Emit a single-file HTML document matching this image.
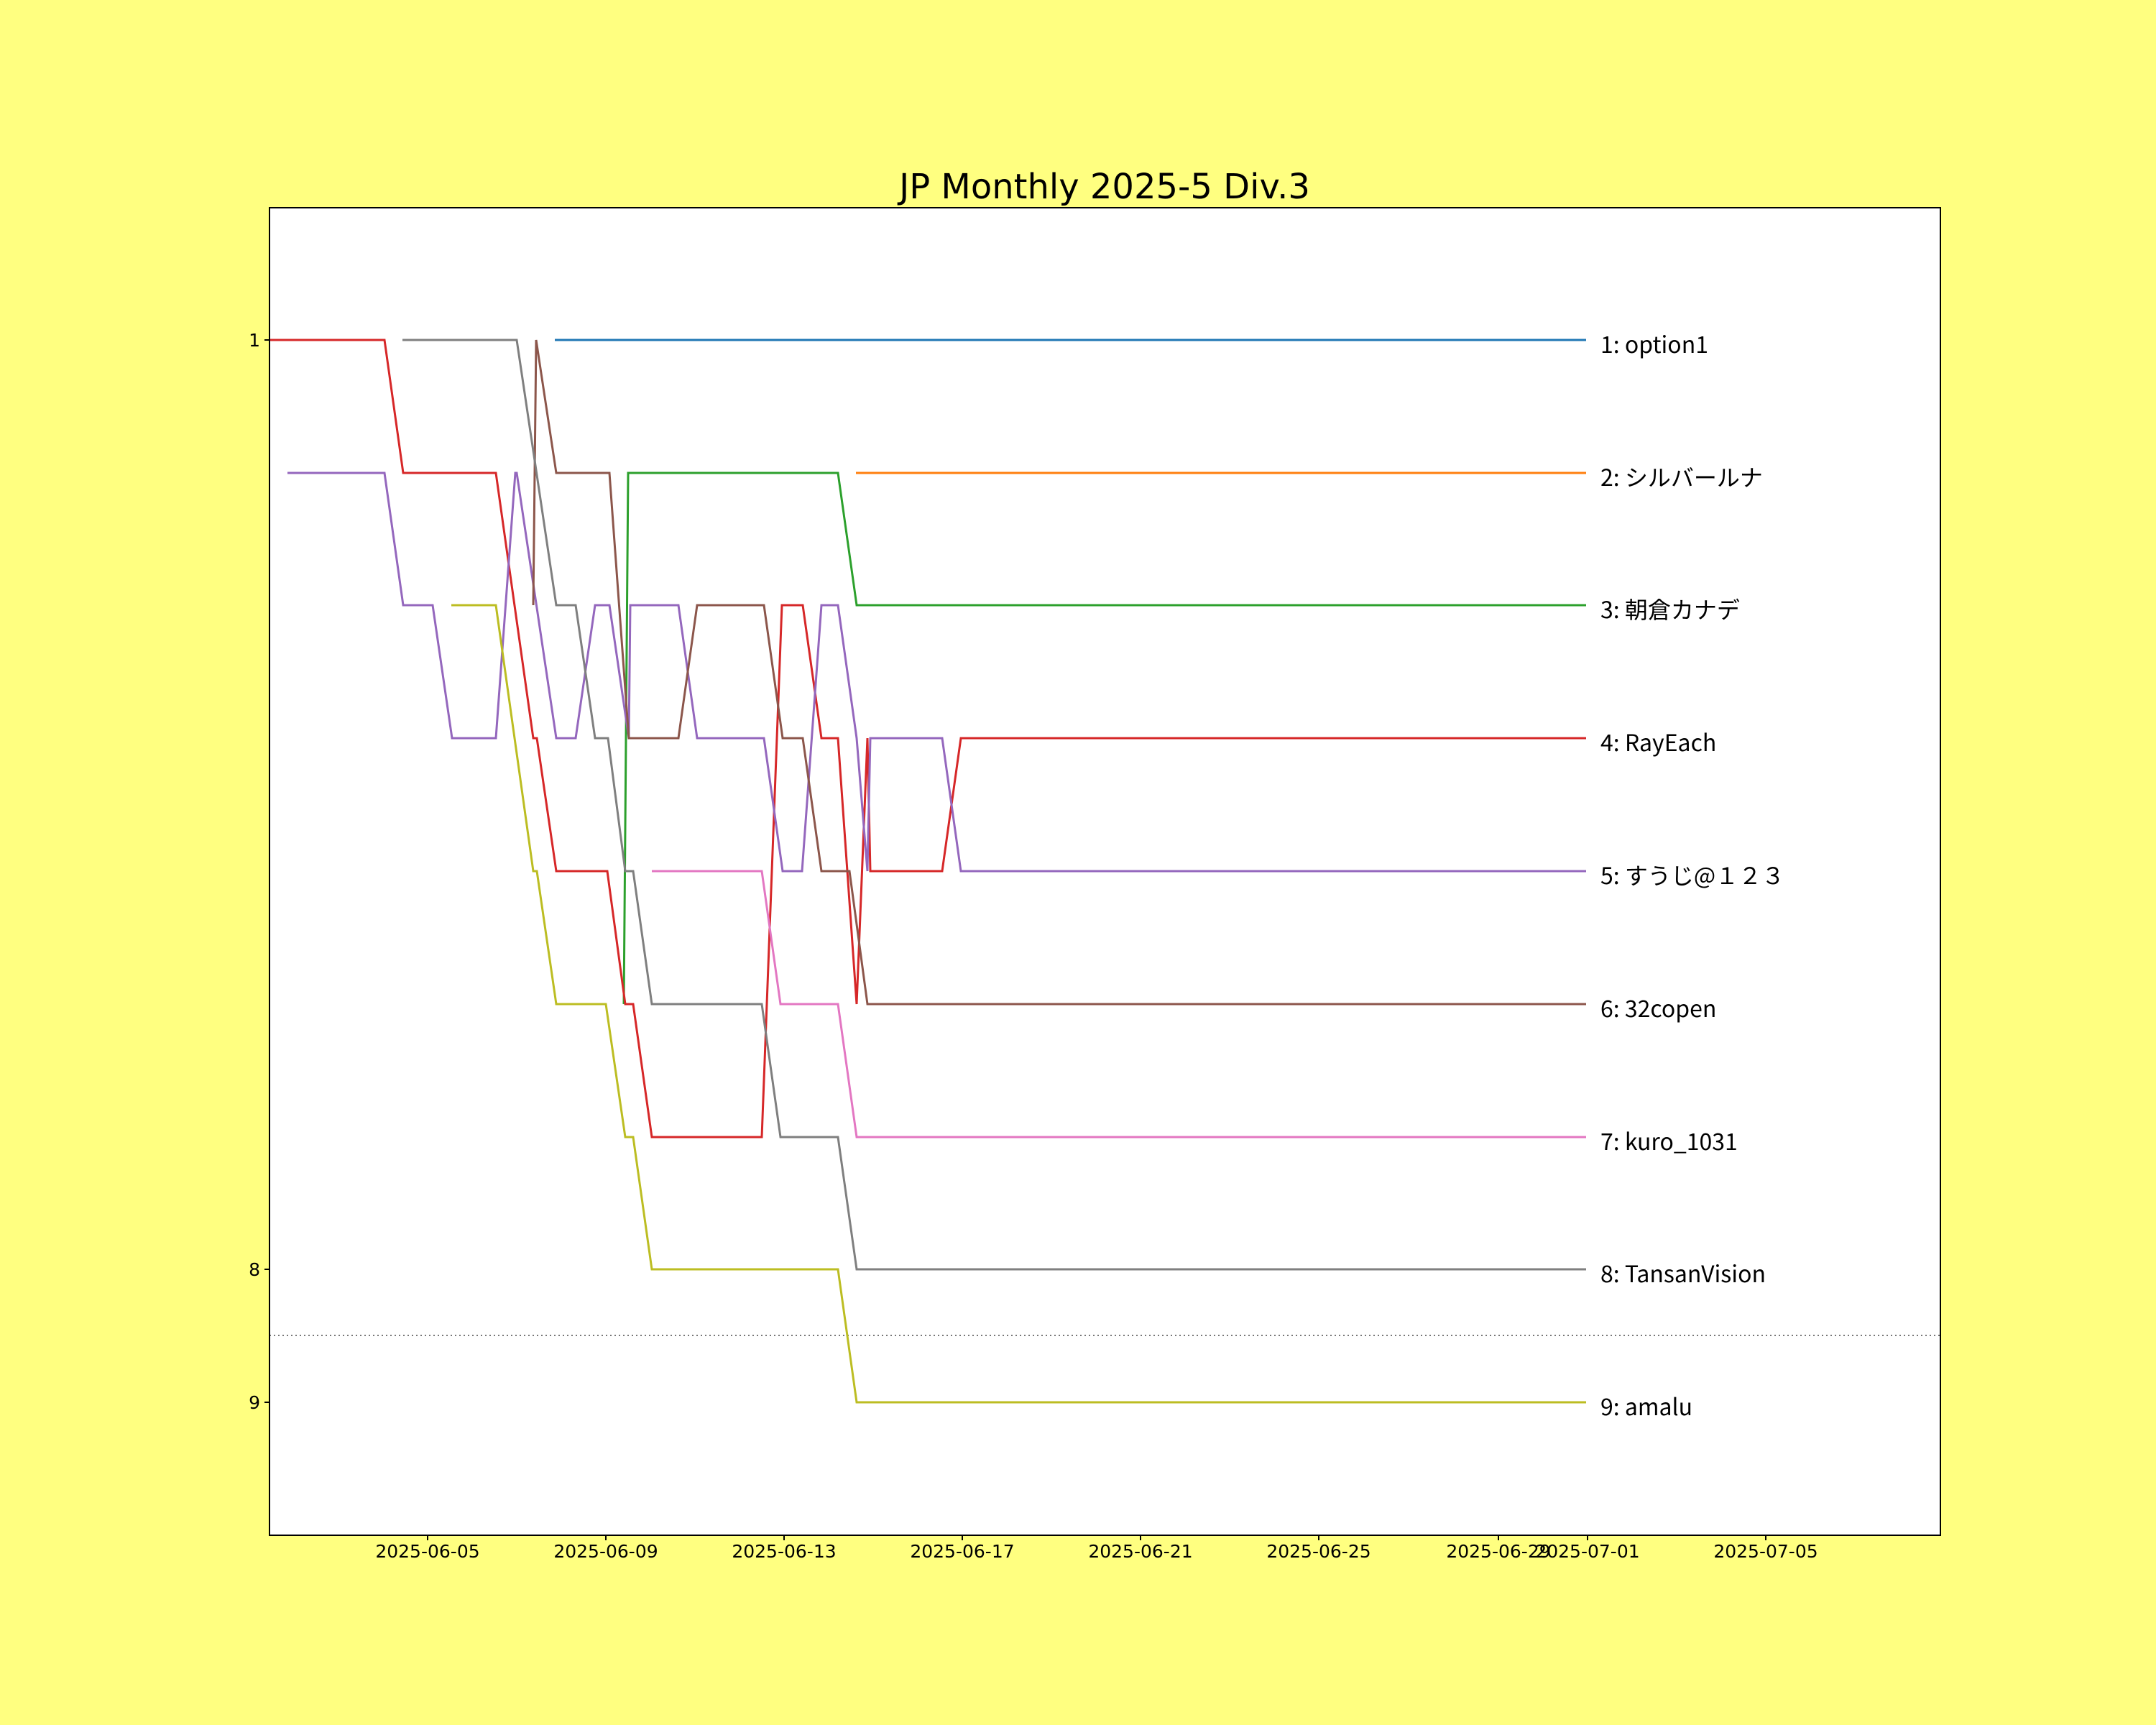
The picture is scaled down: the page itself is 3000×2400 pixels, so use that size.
<!DOCTYPE html>
<html><head><meta charset="utf-8"><style>
html,body{margin:0;padding:0;background:#ffff80;}
svg{display:block;}
text{font-family:"Noto Sans CJK JP","Liberation Sans",sans-serif;fill:#000;}
text.dv,.dv text{font-family:"DejaVu Sans","Noto Sans CJK JP",sans-serif;}
</style></head><body>
<svg width="3000" height="2400" viewBox="0 0 3000 2400" xmlns="http://www.w3.org/2000/svg">
<rect x="0" y="0" width="3000" height="2400" fill="#ffff80"/>
<rect x="375" y="289" width="2325" height="1847" fill="#fff"/>
<text class="dv" x="1537" y="276" font-size="48" text-anchor="middle">JP Monthly 2025-5 Div.3</text>
<line x1="375" y1="1858" x2="2700" y2="1858" stroke="#777" stroke-width="2" stroke-dasharray="2,4"/>
<g fill="none" stroke-width="3" stroke-linejoin="miter">
<polyline stroke="#1f77b4" points="772,473 2207,473"/>
<polyline stroke="#ff7f0e" points="1191,658 2207,658"/>
<polyline stroke="#2ca02c" points="868,1397 874,658 1166,658 1192,842 2207,842"/>
<polyline stroke="#d62728" points="375,473 535,473 561,658 690,658 742,1027 747,1027 774,1212 845,1212 870,1397 881,1397 907,1582 1060,1582 1088,842 1117,842 1143,1027 1166,1027 1192,1397 1207,1027 1211,1212 1311,1212 1337,1027 2207,1027"/>
<polyline stroke="#9467bd" points="400,658 535,658 561,842 602,842 629,1027 690,1027 717,658 719,658 774,1027 801,1027 828,842 848,842 875,1027 877,842 944,842 970,1027 1063,1027 1089,1212 1116,1212 1143,842 1166,842 1192,1027 1207,1212 1211,1027 1311,1027 1337,1212 2207,1212"/>
<polyline stroke="#8c564b" points="742,842 746,473 774,658 848,658 875,1027 944,1027 970,842 1063,842 1089,1027 1117,1027 1143,1212 1182,1212 1207,1397 2207,1397"/>
<polyline stroke="#e377c2" points="907,1212 1060,1212 1086,1397 1166,1397 1192,1582 2207,1582"/>
<polyline stroke="#7f7f7f" points="560,473 719,473 774,842 801,842 828,1027 846,1027 870,1212 881,1212 907,1397 1060,1397 1086,1582 1166,1582 1192,1766 2207,1766"/>
<polyline stroke="#bcbd22" points="628,842 690,842 742,1212 747,1212 774,1397 843,1397 870,1582 881,1582 907,1766 1166,1766 1192,1951 2207,1951"/>
</g>
<rect x="375" y="289" width="2325" height="1847" fill="none" stroke="#000" stroke-width="2"/>
<g stroke="#000" stroke-width="2">
<line x1="368" y1="473" x2="375" y2="473"/>
<line x1="368" y1="1766" x2="375" y2="1766"/>
<line x1="368" y1="1951" x2="375" y2="1951"/>
<line x1="595" y1="2136" x2="595" y2="2143"/>
<line x1="843" y1="2136" x2="843" y2="2143"/>
<line x1="1091" y1="2136" x2="1091" y2="2143"/>
<line x1="1339" y1="2136" x2="1339" y2="2143"/>
<line x1="1587" y1="2136" x2="1587" y2="2143"/>
<line x1="1835" y1="2136" x2="1835" y2="2143"/>
<line x1="2085" y1="2136" x2="2085" y2="2143"/>
<line x1="2209" y1="2136" x2="2209" y2="2143"/>
<line x1="2457" y1="2136" x2="2457" y2="2143"/>
</g>
<g class="dv" font-size="25" text-anchor="end">
<text x="362" y="482">1</text>
<text x="362" y="1775">8</text>
<text x="362" y="1960">9</text>
</g>
<g class="dv" font-size="25" text-anchor="middle">
<text x="595" y="2167">2025-06-05</text>
<text x="843" y="2167">2025-06-09</text>
<text x="1091" y="2167">2025-06-13</text>
<text x="1339" y="2167">2025-06-17</text>
<text x="1587" y="2167">2025-06-21</text>
<text x="1835" y="2167">2025-06-25</text>
<text x="2085" y="2167">2025-06-29</text>
<text x="2209" y="2167">2025-07-01</text>
<text x="2457" y="2167">2025-07-05</text>
</g>
<g font-size="32">
<text x="2227" y="491">1: option1</text>
<text x="2227" y="676">2: シルバールナ</text>
<text x="2227" y="860">3: 朝倉カナデ</text>
<text x="2227" y="1045">4: RayEach</text>
<text x="2227" y="1230">5: すうじ@１２３</text>
<text x="2227" y="1415">6: 32copen</text>
<text x="2227" y="1600">7: kuro_1031</text>
<text x="2227" y="1784">8: TansanVision</text>
<text x="2227" y="1969">9: amalu</text>
</g>
</svg>
</body></html>
